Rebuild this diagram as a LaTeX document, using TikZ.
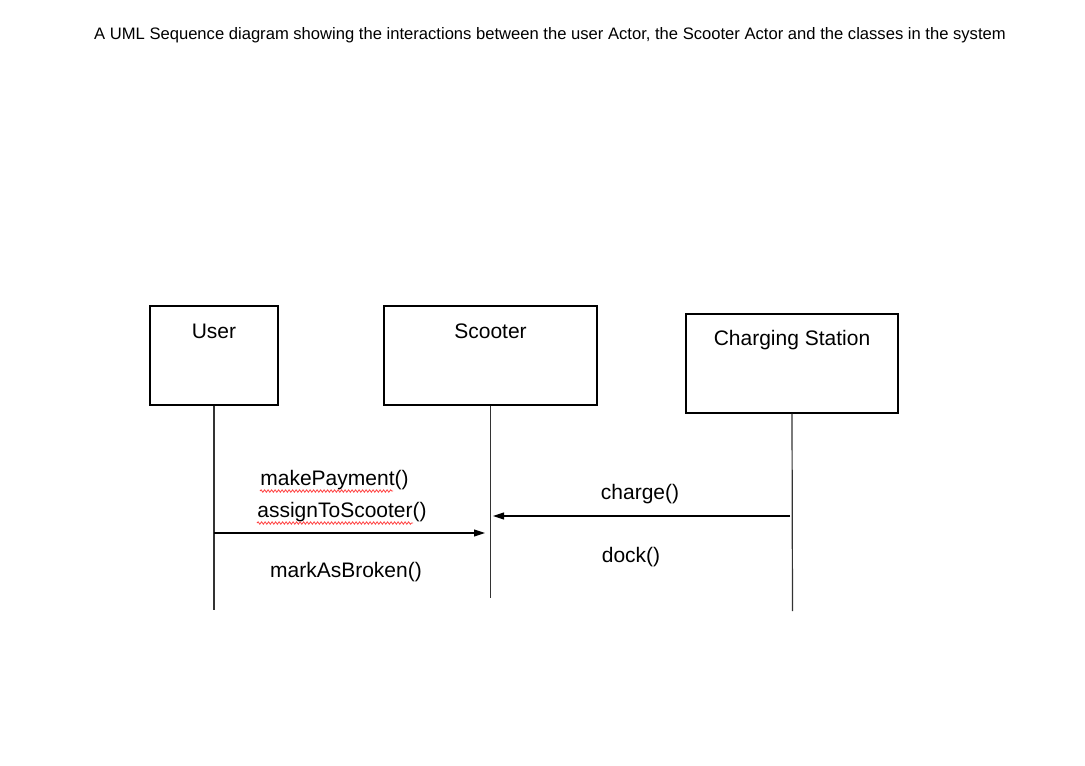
\documentclass[tikz,border=0pt]{standalone}
\usepackage{fontspec}
\setmainfont{Liberation Sans}
\usetikzlibrary{arrows.meta, positioning, decorations.pathmorphing}
\tikzset{
  classbox/.style = {draw, line width=1.1pt, minimum height=99pt, inner sep=0pt},
  lifeline/.style = {line width=1.2pt, draw=black!80},
  msg/.style = {line width=1.1pt, -{Triangle[length=11pt, width=7pt]}},
  msgtext/.style = {font=\fontsize{21}{24}\selectfont, inner sep=0pt},
  squiggle/.style = {draw=red!75, line width=0.8pt,
    decoration = {snake, segment length=3.5pt, amplitude=1.2pt}, decorate}
}
\begin{document}
\begin{tikzpicture}[x=1pt, y=-1pt]

  \useasboundingbox[fill=white] (0,0) rectangle (1085,766);

  % Title
  \node[font=\fontsize{16.6}{19}\selectfont, inner sep=0pt] (title) at (550,35)
    {A UML Sequence diagram showing the interactions between the user Actor, the Scooter Actor and the classes in the system};

  % Objects
  \node[classbox, minimum width=128pt] (user) at (214,355.5) {};
  \node[classbox, minimum width=213pt] (scooter) at (490.5,355.5) {};
  \node[classbox, minimum width=212pt] (station) at (792,363.5) {};
  \node[msgtext] (userlbl) at (214,331.5) {User};
  \node[msgtext] (scooterlbl) at (490.5,331.5) {Scooter};
  \node[msgtext] (stationlbl) at (792,340.5) {Charging Station};

  % Lifelines
  \coordinate (userend) at (214,610);
  \coordinate (scooterend) at (490.5,598);
  \coordinate (stationend) at (792.5,611);
  \draw[lifeline] (user.south) -- (userend);
  \draw[lifeline] (scooter.south) -- (scooterend);
  \draw[lifeline] (station.south) -- (stationend);

  % Messages
  \coordinate (paystart) at (214,533);
  \coordinate (payend) at (485,533);
  \coordinate (chargestart) at (790,516);
  \coordinate (chargeend) at (493,516);
  \draw[msg] (paystart) -- (payend);
  \draw[msg] (chargestart) -- (chargeend);

  \node[msgtext] (pay) at (334.5,480.5) {makePayment()};
  \node[msgtext] (assign) at (342,512.5) {assignToScooter()};
  \node[msgtext] (broken) at (346,572.5) {markAsBroken()};
  \node[msgtext] (charge) at (640,494.5) {charge()};
  \node[msgtext] (dock) at (631,557.5) {dock()};

  % Spelling marks
  \draw[squiggle] (260,491) -- (393,491);
  \draw[squiggle] (257,523) -- (413,523);

\end{tikzpicture}
\end{document}
